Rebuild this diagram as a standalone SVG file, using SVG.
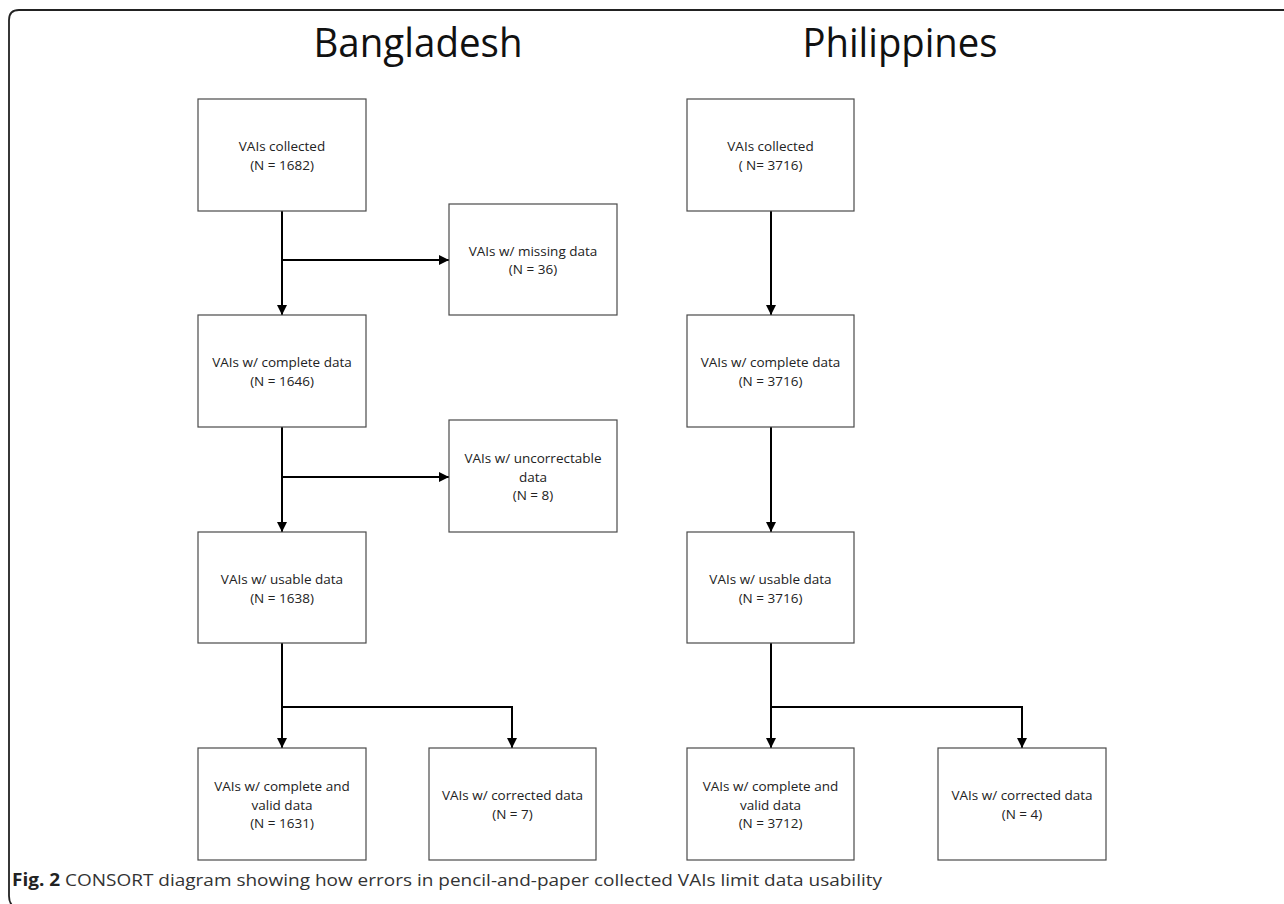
<svg xmlns="http://www.w3.org/2000/svg" width="1284" height="904" viewBox="0 0 1284 904">
<style>
.box{fill:#fff;stroke:#4a4a4a;stroke-width:1.2}
.t{font-family:"Open Sans","Liberation Sans",sans-serif;font-size:13.5px;fill:#222;text-anchor:middle}
.title{font-family:"Open Sans","Liberation Sans",sans-serif;font-size:40px;fill:#111;text-anchor:middle}
.cap{font-family:"Open Sans","Liberation Sans",sans-serif;font-size:17px;fill:#333}
.ln{fill:none;stroke:#000;stroke-width:2}
</style>
<defs>
<marker id="ah" viewBox="0 0 10 10" refX="10" refY="5" markerWidth="10" markerHeight="10" markerUnits="userSpaceOnUse" orient="auto">
<path d="M0,0 L10,5 L0,10 Z" fill="#000"/>
</marker>
</defs>
<rect width="1284" height="904" fill="#fff"/>
<path d="M1284,10 L19,10 Q9,10 9,20 L9,896 Q9,903 13,906" fill="none" stroke="#222" stroke-width="1.8"/>
<text class="title" x="418" y="57" textLength="209" lengthAdjust="spacingAndGlyphs">Bangladesh</text>
<text class="title" x="900" y="57" textLength="195" lengthAdjust="spacingAndGlyphs">Philippines</text>

<g id="connectors">
<path class="ln" d="M282,211 L282,315" marker-end="url(#ah)"/>
<path class="ln" d="M282,260 L449,260" marker-end="url(#ah)"/>
<path class="ln" d="M282,427 L282,532" marker-end="url(#ah)"/>
<path class="ln" d="M282,477 L449,477" marker-end="url(#ah)"/>
<path class="ln" d="M282,643 L282,748" marker-end="url(#ah)"/>
<path class="ln" d="M282,707 L512,707 L512,748" marker-end="url(#ah)"/>
<path class="ln" d="M771,211 L771,315" marker-end="url(#ah)"/>
<path class="ln" d="M771,427 L771,532" marker-end="url(#ah)"/>
<path class="ln" d="M771,643 L771,748" marker-end="url(#ah)"/>
<path class="ln" d="M771,707 L1022,707 L1022,748" marker-end="url(#ah)"/>
</g>

<g id="b-collected"><rect class="box" x="198" y="99" width="168" height="112"/>
<text class="t" x="282" y="151">VAIs collected</text><text class="t" x="282" y="169.5">(N = 1682)</text></g>
<g id="b-missing"><rect class="box" x="449" y="204" width="168" height="111"/>
<text class="t" x="533" y="255.5">VAIs w/ missing data</text><text class="t" x="533" y="274">(N = 36)</text></g>
<g id="b-complete"><rect class="box" x="198" y="315" width="168" height="112"/>
<text class="t" x="282" y="367">VAIs w/ complete data</text><text class="t" x="282" y="385.5">(N = 1646)</text></g>
<g id="b-uncorrectable"><rect class="box" x="449" y="420" width="168" height="112"/>
<text class="t" x="533" y="463">VAIs w/ uncorrectable</text><text class="t" x="533" y="481.5">data</text><text class="t" x="533" y="500">(N = 8)</text></g>
<g id="b-usable"><rect class="box" x="198" y="532" width="168" height="111"/>
<text class="t" x="282" y="584">VAIs w/ usable data</text><text class="t" x="282" y="602.5">(N = 1638)</text></g>
<g id="b-valid"><rect class="box" x="198" y="748" width="168" height="112"/>
<text class="t" x="282" y="791">VAIs w/ complete and</text><text class="t" x="282" y="809.5">valid data</text><text class="t" x="282" y="828">(N = 1631)</text></g>
<g id="b-corrected"><rect class="box" x="429" y="748" width="167" height="112"/>
<text class="t" x="512.5" y="800">VAIs w/ corrected data</text><text class="t" x="512.5" y="818.5">(N = 7)</text></g>

<g id="p-collected"><rect class="box" x="687" y="99" width="167" height="112"/>
<text class="t" x="770.5" y="151">VAIs collected</text><text class="t" x="770.5" y="169.5">( N= 3716)</text></g>
<g id="p-complete"><rect class="box" x="687" y="315" width="167" height="112"/>
<text class="t" x="770.5" y="367">VAIs w/ complete data</text><text class="t" x="770.5" y="385.5">(N = 3716)</text></g>
<g id="p-usable"><rect class="box" x="687" y="532" width="167" height="111"/>
<text class="t" x="770.5" y="584">VAIs w/ usable data</text><text class="t" x="770.5" y="602.5">(N = 3716)</text></g>
<g id="p-valid"><rect class="box" x="687" y="748" width="167" height="112"/>
<text class="t" x="770.5" y="791">VAIs w/ complete and</text><text class="t" x="770.5" y="809.5">valid data</text><text class="t" x="770.5" y="828">(N = 3712)</text></g>
<g id="p-corrected"><rect class="box" x="938" y="748" width="168" height="112"/>
<text class="t" x="1022" y="800">VAIs w/ corrected data</text><text class="t" x="1022" y="818.5">(N = 4)</text></g>

<text class="cap" x="12" y="886" textLength="870" lengthAdjust="spacingAndGlyphs"><tspan font-weight="bold" fill="#222">Fig. 2</tspan> CONSORT diagram showing how errors in pencil-and-paper collected VAIs limit data usability</text>
</svg>
